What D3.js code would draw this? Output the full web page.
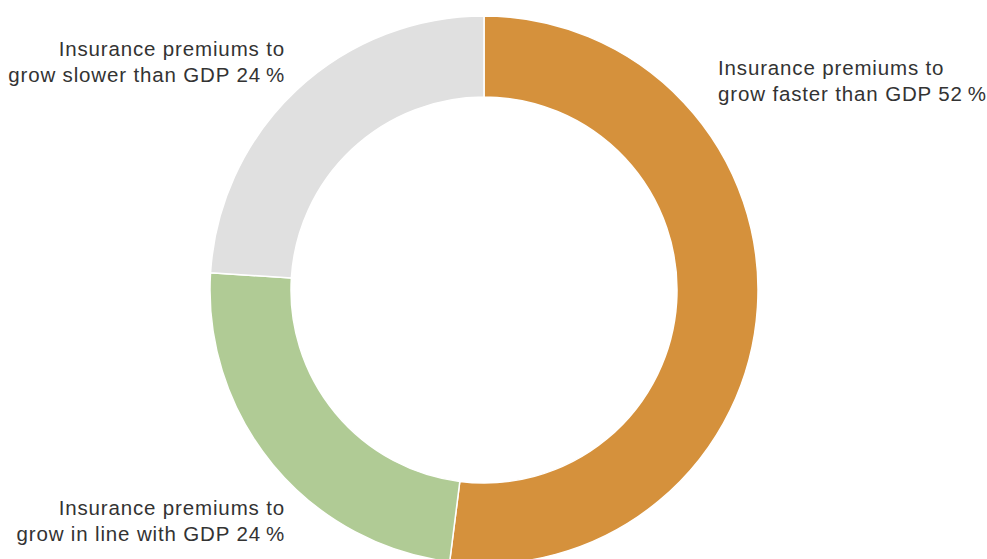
<!DOCTYPE html>
<html><head><meta charset="utf-8">
<script src="https://cdn.jsdelivr.net/npm/d3@7/dist/d3.min.js"></script>
<style>html,body{margin:0;padding:0;background:#fff;}svg{display:block;}</style>
</head><body>
<svg id="chart" width="987" height="559"></svg>
<script>
const categories = ["Insurance premiums to grow faster than GDP", "Insurance premiums to grow in line with GDP", "Insurance premiums to grow slower than GDP"];
const values = [52, 24, 24];
const colors = ["#d5913c", "#b0cb95", "#e0e0e0"];
const labelLines = [
  ["Insurance premiums to", "grow faster than GDP 52\u2009%"],
  ["Insurance premiums to", "grow in line with GDP 24\u2009%"],
  ["Insurance premiums to", "grow slower than GDP 24\u2009%"]
];

const svg = d3.select("#chart");
const cx = 484, cy = 290, rOuter = 274, rInner = 193;
const data = categories.map((c, i) => ({name: c, value: values[i], color: colors[i], lines: labelLines[i]}));
const pie = d3.pie().sort(null).value(d => d.value);
const arc = d3.arc().innerRadius(rInner).outerRadius(rOuter);
const g = svg.append("g").attr("transform", `translate(${cx},${cy})`);
g.selectAll("path").data(pie(data)).join("path")
  .attr("d", arc).attr("fill", d => d.data.color)
  .attr("stroke", "#fff").attr("stroke-width", 1.5);

const labelPos = [
  {x: 718, y: 75, anchor: "start"},
  {x: 285, y: 515, anchor: "end"},
  {x: 285, y: 56, anchor: "end"}
];
data.forEach((d, i) => {
  const t = svg.append("text")
    .attr("x", labelPos[i].x).attr("y", labelPos[i].y)
    .attr("text-anchor", labelPos[i].anchor)
    .attr("font-family", "Liberation Sans, Arial, sans-serif")
    .attr("font-size", 20.5).attr("letter-spacing", 0.85).attr("fill", "#333");
  d.lines.forEach((l, j) => t.append("tspan").attr("x", labelPos[i].x).attr("dy", j === 0 ? 0 : 26).text(l));
});
</script>
</body></html>
